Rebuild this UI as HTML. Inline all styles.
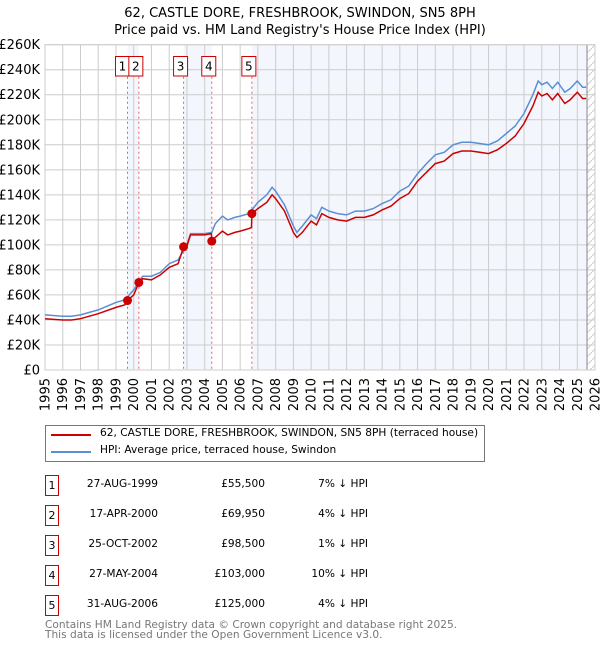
<!DOCTYPE html>
<html><head><meta charset="utf-8"><style>
body{margin:0;background:#fff;font-family:"DejaVu Sans","Liberation Sans",sans-serif;}
#wrap{position:relative;width:600px;height:650px;overflow:hidden}
.t{position:absolute;font-size:10.6px;color:#000;white-space:nowrap}
.box{position:absolute;width:12px;height:19px;border:1.5px solid #c00;font-size:11px;text-align:center;line-height:19px}
</style></head><body><div id="wrap">
<svg id="svg" width="600" height="420" style="position:absolute;left:0;top:0"></svg>
<div style="position:absolute;left:45px;top:425px;width:438px;height:35px;border:1px solid #777">
 <div style="position:absolute;left:5px;top:8px;width:40px;height:2px;background:#c00"></div>
 <div class="t" style="left:54px;top:1px">62, CASTLE DORE, FRESHBROOK, SWINDON, SN5 8PH (terraced house)</div>
 <div style="position:absolute;left:5px;top:25px;width:40px;height:2px;background:#5b8fd4"></div>
 <div class="t" style="left:54px;top:18px">HPI: Average price, terraced house, Swindon</div>
</div>
<div id="table"></div>
<div class="t" style="left:45px;top:620px;color:#777;line-height:10px">Contains HM Land Registry data © Crown copyright and database right 2025.<br>This data is licensed under the Open Government Licence v3.0.</div>
</div>
<script>
const hpiT=[1995,1996,1996.5,1997,1998,1999,1999.5,2000,2000.5,2001,2001.5,2002,2002.5,2003,2003.2,2004,2004.4,2004.6,2005,2005.3,2005.7,2006,2006.5,2007,2007.5,2007.8,2008,2008.5,2009,2009.2,2009.5,2010,2010.3,2010.6,2011,2011.5,2012,2012.5,2013,2013.5,2014,2014.5,2015,2015.5,2016,2016.5,2017,2017.5,2018,2018.5,2019,2019.5,2020,2020.5,2021,2021.5,2022,2022.5,2022.8,2023,2023.3,2023.6,2023.9,2024.3,2024.6,2025,2025.3,2025.5];
const hpiV=[44,43,43,44,48,54,56,64,75,75,78,85,88,100,109,109,110,117,123,120,122,123,125,134,140,146,143,132,115,110,115,124,121,130,127,125,124,127,127,129,133,136,143,147,157,165,172,174,180,182,182,181,180,183,189,195,205,220,231,228,230,225,230,222,225,231,226,226];
const redT=[1995,1996,1996.5,1997,1998,1999,1999.5,1999.65,2000,2000.29,2000.5,2001,2001.5,2002,2002.5,2002.81,2003,2003.2,2004,2004.38,2004.4,2004.6,2005,2005.3,2005.7,2006,2006.5,2006.64,2006.66,2007,2007.5,2007.8,2008,2008.5,2009,2009.2,2009.5,2010,2010.3,2010.6,2011,2011.5,2012,2012.5,2013,2013.5,2014,2014.5,2015,2015.5,2016,2016.5,2017,2017.5,2018,2018.5,2019,2019.5,2020,2020.5,2021,2021.5,2022,2022.5,2022.8,2023,2023.3,2023.6,2023.9,2024.3,2024.6,2025,2025.3,2025.5];
const redV=[41,40,40,41,45,50,52,55.5,60,69.95,73,72,76,82,85,98.5,99,108,108,109,103,106,111,108,110,111,113,114,125,129,134,140,137,127,110,106,110,119,116,125,122,120,119,122,122,124,128,131,137,141,151,158,165,167,173,175,175,174,173,176,181,187,197,211,222,219,221,216,221,213,216,222,217,217];
const saleT=[1999.65,2000.29,2002.81,2004.40,2006.66];
const saleV=[55.5,69.95,98.5,103,125];
const saleDates=["27-AUG-1999","17-APR-2000","25-OCT-2002","27-MAY-2004","31-AUG-2006"];
const salePrices=["£55,500","£69,950","£98,500","£103,000","£125,000"];
const salePct=["7% ↓ HPI","4% ↓ HPI","1% ↓ HPI","10% ↓ HPI","4% ↓ HPI"];
const yTicks=[0,20,40,60,80,100,120,140,160,180,200,220,240,260];
const xYears=[];for(let y=1995;y<=2026;y++)xYears.push(y);
const X0=45,X1=595,Y0=370,Y1=44.7,dataEnd=2025.55;
const xs=t=>X0+(t-1995)/(2026-1995)*(X1-X0);
const ys=v=>Y0-v/260*(Y0-Y1);
const svg=document.getElementById('svg');const NS='http://www.w3.org/2000/svg';
function mk(tag,at,name){const e=document.createElementNS(NS,tag);for(const k in at)e.setAttribute(k,at[k]);


svg.appendChild(e);return e;}
mk('rect',{x:X0,y:Y1,width:X1-X0,height:Y0-Y1,fill:'#fff'},'plot-background');
const shades=[[saleT[0],saleT[1]],[saleT[2],saleT[3]],[saleT[4],dataEnd]];
shades.forEach(s=>mk('rect',{x:xs(s[0]),y:Y1,width:xs(s[1])-xs(s[0]),height:Y0-Y1,fill:'#eef2fc','fill-opacity':0.7},'ownership-shade'));
const defs=mk('defs',{},'defs');
defs.innerHTML='<pattern id="h" width="8" height="8" patternUnits="userSpaceOnUse"><path d="M0,8 L8,0" stroke="#ccc" stroke-width="1"/></pattern>';
mk('rect',{x:xs(dataEnd),y:Y1,width:X1-xs(dataEnd),height:Y0-Y1,fill:'url(#h)'},'future-hatch');
yTicks.forEach(v=>{mk('line',{x1:X0,x2:X1,y1:ys(v),y2:ys(v),stroke:'#ccc','stroke-width':1},'y-gridline');
const t=mk('text',{x:40,y:ys(v)+4.5,'text-anchor':'end','font-size':13},'y-tick-label');t.textContent=v===0?'£0':'£'+v+'K';});
xYears.forEach(y=>{mk('line',{x1:xs(y),x2:xs(y),y1:Y1,y2:Y0,stroke:'#ccc','stroke-width':1},'x-gridline');
const t=mk('text',{x:0,y:0,'text-anchor':'end','font-size':13,transform:`translate(${xs(y)+4.5},${Y0+8}) rotate(-90)`},'x-tick-label');t.textContent=y;});
mk('line',{x1:xs(dataEnd),x2:xs(dataEnd),y1:Y1,y2:Y0,stroke:'#888','stroke-width':1},'data-end-line');
mk('rect',{x:X0,y:Y1,width:X1-X0,height:Y0-Y1,fill:'none',stroke:'#ccc'},'plot-border');
saleT.forEach((t,i)=>{mk('line',{x1:xs(t),x2:xs(t),y1:Y1+32,y2:Y0,stroke:'#f55','stroke-width':1,'stroke-dasharray':'2,3'},'sale-marker-line');
const bl=xs(t)-(i==0?12:10);
mk('rect',{x:bl,y:56.5,width:14,height:19.5,fill:'#fff',stroke:'#c00','stroke-width':1},'sale-label-box');
const tx=mk('text',{x:bl+7,y:70.5,'text-anchor':'middle','font-size':12},'sale-label');tx.textContent=i+1;});
const pth=(T,V)=>T.map((t,i)=>(i?'L':'M')+xs(t).toFixed(1)+','+ys(V[i]).toFixed(1)).join('');
mk('path',{d:pth(hpiT,hpiV),fill:'none',stroke:'#5b8fd4','stroke-width':1.5},'hpi-line');
mk('path',{d:pth(redT,redV),fill:'none',stroke:'#c00','stroke-width':1.5},'property-price-line');
saleT.forEach((t,i)=>mk('circle',{cx:xs(t),cy:ys(saleV[i]),r:4.5,fill:'#c00'},'sale-point'));
const t1=mk('text',{x:300,y:17,'text-anchor':'middle','font-size':13},'chart-title');t1.textContent='62, CASTLE DORE, FRESHBROOK, SWINDON, SN5 8PH';
const t2=mk('text',{x:300,y:34,'text-anchor':'middle','font-size':13},'chart-subtitle');t2.textContent="Price paid vs. HM Land Registry's House Price Index (HPI)";
const tb=document.getElementById('table');
saleDates.forEach((d,i)=>{const top=475+i*30;
const r=document.createElement('div');


r.innerHTML=`<div class="box" style="left:45px;top:${top}px">${i+1}</div>
<div class="t" style="right:${600-158}px;top:${top+3}px">${d}</div>
<div class="t" style="right:${600-265}px;top:${top+3}px">${salePrices[i]}</div>
<div class="t" style="right:${600-368}px;top:${top+3}px">${salePct[i]}</div>`;
tb.appendChild(r);});
</script></body></html>
